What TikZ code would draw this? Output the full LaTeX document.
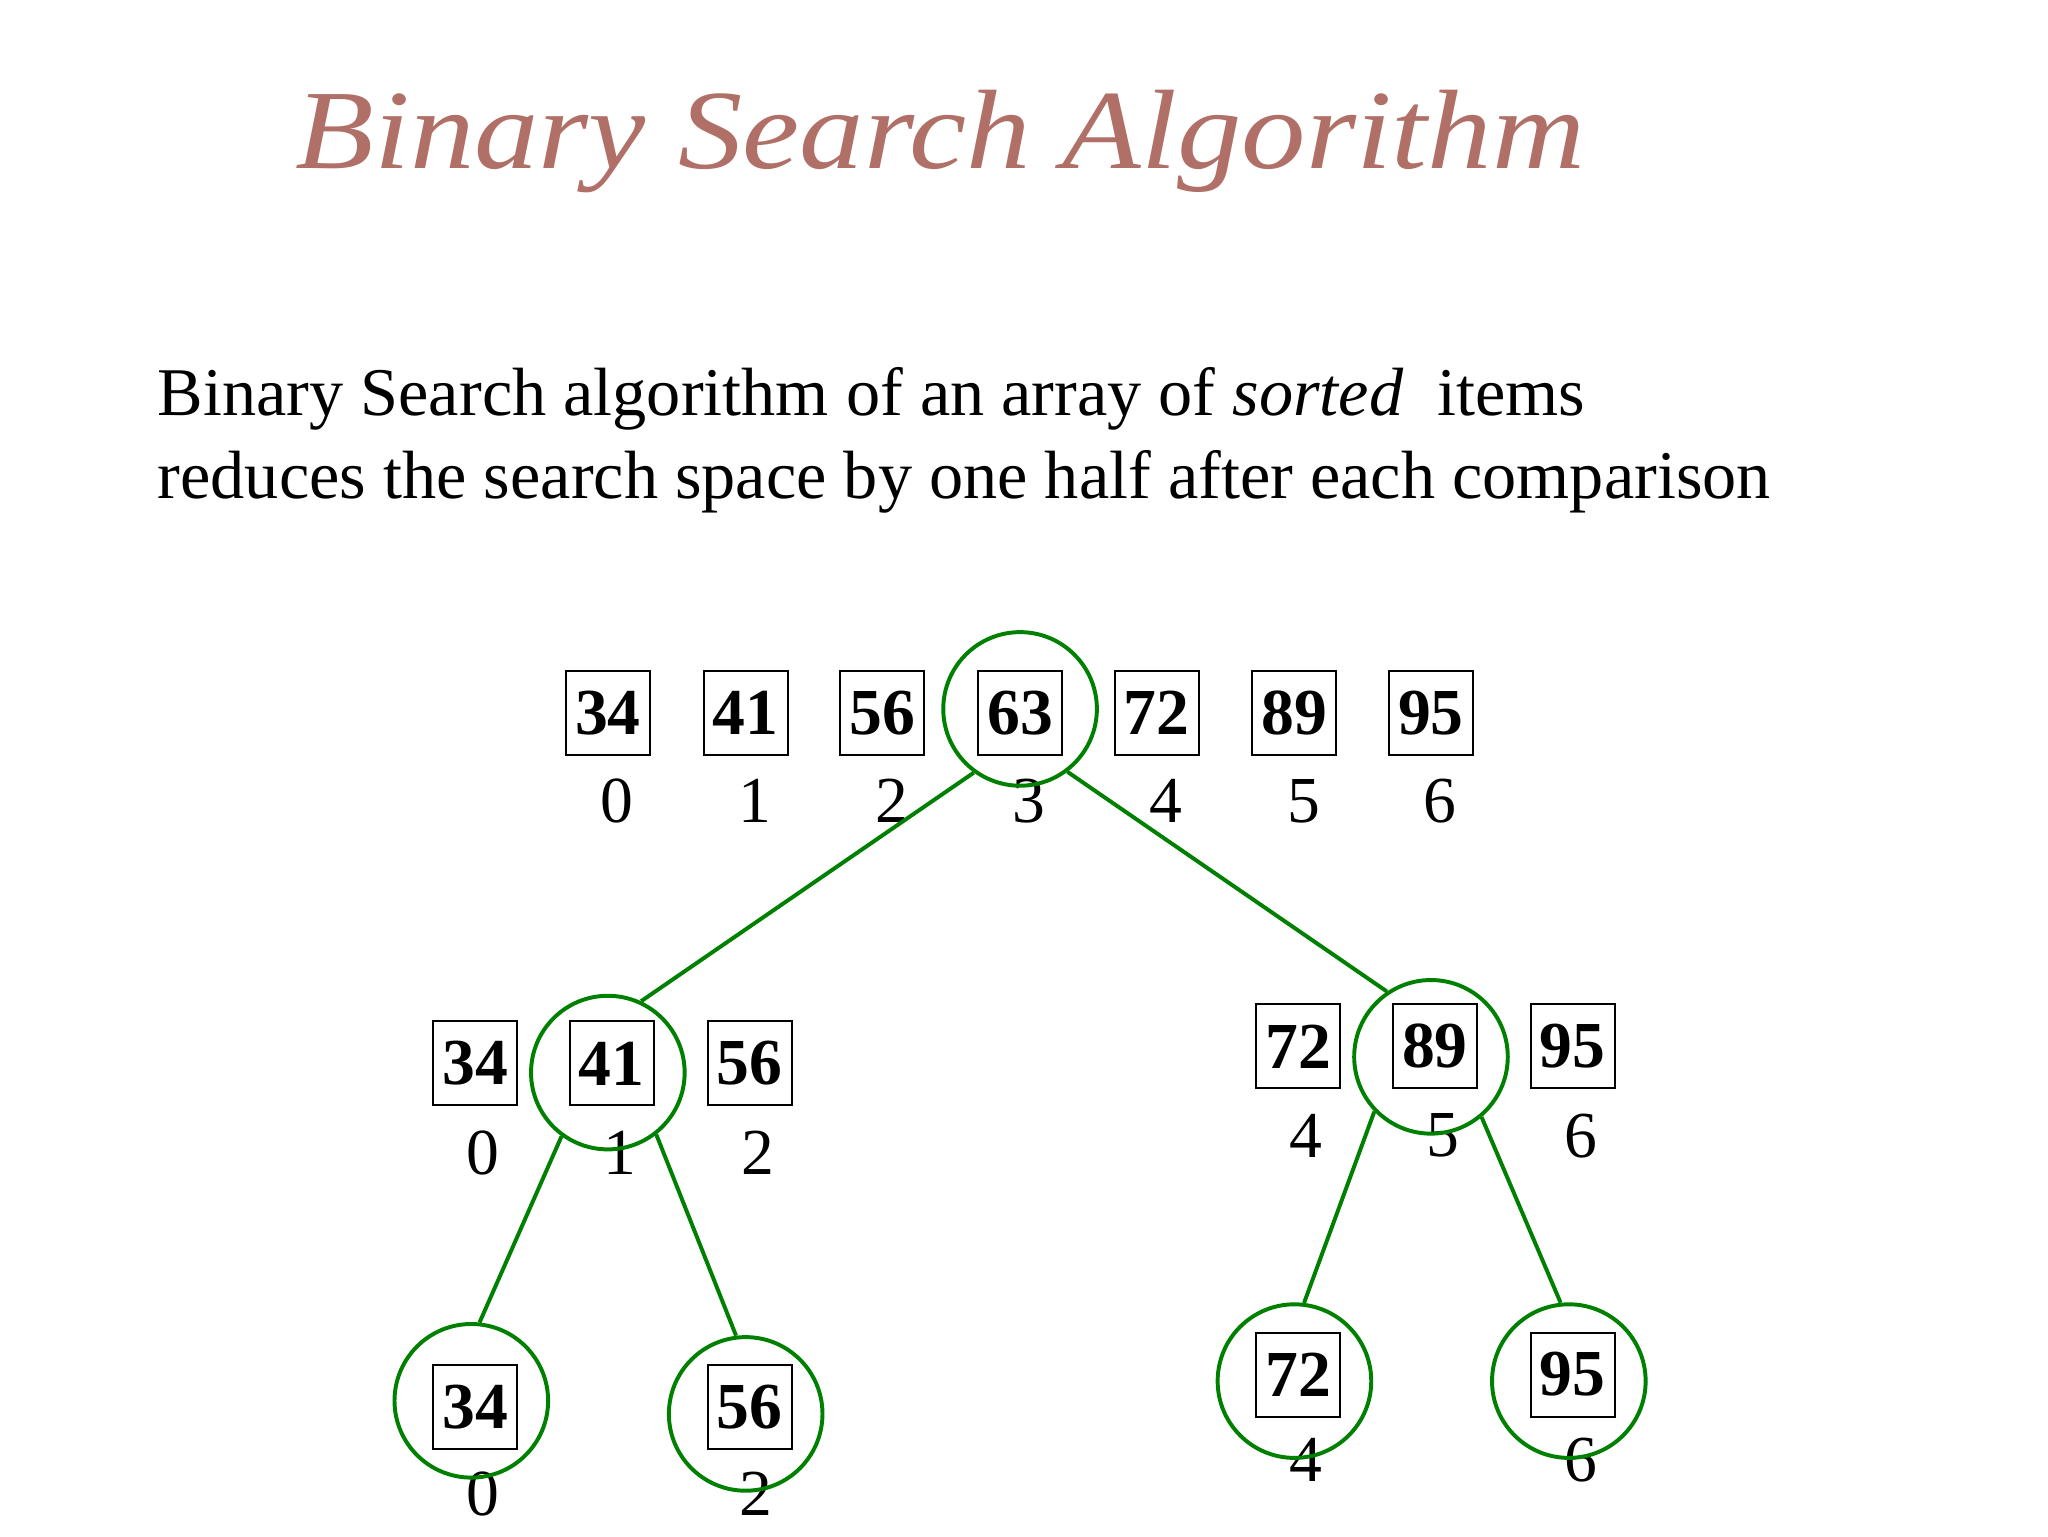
\documentclass[tikz,border=0pt]{standalone}
\usepackage{fontspec}
\setmainfont{Liberation Serif}
\begin{document}
\begin{tikzpicture}[x=1pt,y=-1pt,
  cell/.style={draw,line width=1.5pt,inner sep=0pt,minimum width=64pt,minimum height=64pt,font=\fontsize{50}{50}\selectfont\bfseries},
  idx/.style={inner sep=0pt,font=\fontsize{50}{50}\selectfont},
  ring/.style={draw=green!50!black,line width=3pt,circle,minimum size=117pt,inner sep=0pt},
  edge/.style={draw=green!50!black,line width=3pt}]
\useasboundingbox (0,0) rectangle (1560,1170);
\node[font=\fontsize{86}{86}\selectfont\itshape,text={rgb,255:red,176;green,112;blue,104},anchor=base west,xscale=1.14,inner sep=0pt] (title) at (225,128) {Binary Search Algorithm};
\node[anchor=north west,align=left,inner sep=0pt,font=\fontsize{52}{63}\selectfont] (body) at (120,280) {Binary Search algorithm of an array of \textit{sorted}\ \ items\\reduces the search space by one half after each comparison};
% top row
\foreach \v/\x/\i in {34/463/0,41/568/1,56/672/2,63/777/3,72/881/4,89/986/5,95/1090/6}{
  \node[cell] (t\i) at (\x,543) {\v};
  \node[idx] (ti\i) at (\x+7,610) {\i};
}
\node[ring] (c63) at (777,540) {};
% level 2 left
\foreach \v/\x/\i in {34/362/0,41/466/1,56/571/2}{
  \node[cell] (l\i) at (\x,810) {\v};
  \node[idx] (li\i) at (\x+6,878) {\i};
}
\node[ring] (c41) at (463,817) {};
% level 2 right
\foreach \v/\x/\i in {72/989/4,89/1093/5,95/1198/6}{
  \node[cell] (r\i) at (\x,797) {\v};
  \node[idx] (ri\i) at (\x+6,865) {\i};
}
\node[ring] (c89) at (1090,805) {};
% level 3
\node[cell] (b34) at (362,1072) {34}; \node[idx] (bi0) at (368,1138) {0};
\node[cell] (b56) at (571,1072) {56}; \node[idx] (bi2) at (576,1138) {2};
\node[cell] (b72) at (989,1047) {72}; \node[idx] (bi4) at (995,1112) {4};
\node[cell] (b95) at (1198,1047) {95}; \node[idx] (bi6) at (1204,1112) {6};
\node[ring] (c34) at (359,1067) {};
\node[ring] (c56) at (568,1077) {};
\node[ring] (c72) at (986,1052) {};
\node[ring] (c95) at (1195,1052) {};
% edges
\draw[edge] (c63.-126) -- (c41.65);
\draw[edge] (c63.-53) -- (c89.124);
\draw[edge] (c41.-126) -- (c34.84);
\draw[edge] (c41.-52) -- (c56.97);
\draw[edge] (c89.-136) -- (c72.83);
\draw[edge] (c89.-50) -- (c95.96);
\end{tikzpicture}
\end{document}
